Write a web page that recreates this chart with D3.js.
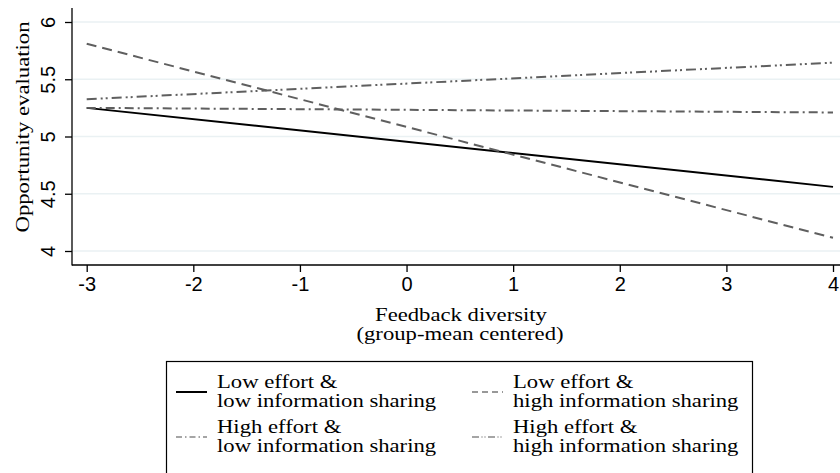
<!DOCTYPE html>
<html><head><meta charset="utf-8">
<script src="https://cdn.jsdelivr.net/npm/d3@7"></script>
<style>body{margin:0;background:#fff}svg{display:block}</style>
</head><body><svg id="c" width="840" height="473"></svg>
<script>
const xEnds = [-3, 4];
const xTicks = [-3, -2, -1, 0, 1, 2, 3, 4];
const yTicks = [4, 4.5, 5, 5.5, 6];
const yTickLabels = ["4", "4.5", "5", "5.5", "6"];
const seriesNames = ["Low effort & low information sharing", "Low effort & high information sharing", "High effort & low information sharing", "High effort & high information sharing"];
const lowLow = [5.25, 4.56];
const lowHigh = [5.81, 4.115];
const highLow = [5.25, 5.21];
const highHigh = [5.325, 5.645];
const legendLines = [["Low effort &", "low information sharing"], ["Low effort &", "high information sharing"], ["High effort &", "low information sharing"], ["High effort &", "high information sharing"]];

const SERIF = "Liberation Serif, Times New Roman, serif";
const FS = 18;
const SX = 1.26; // horizontal stretch of the serif face
const svg = d3.select("#c");
const x = d3.scaleLinear().domain([-3, 4]).range([86.7, 833]);
const y = d3.scaleLinear().domain([4, 6]).range([251, 22]);

const styles = [
  {color: "#000", dash: null},
  {color: "#5f5f5f", dash: "10,6"},
  {color: "#5f5f5f", dash: "9,4,2,4"},
  {color: "#5f5f5f", dash: "10,4,2,3,2,4"}
];
const series = [lowLow, lowHigh, highLow, highHigh];

// gridlines
svg.append("g").selectAll("line").data(yTicks).join("line")
  .attr("x1", 73).attr("x2", 840).attr("y1", d => y(d)).attr("y2", d => y(d))
  .attr("stroke", "#eaf1f3").attr("stroke-width", 1.5);

// y axis
const yAxis = svg.append("g").attr("transform", "translate(72,0)")
  .call(d3.axisLeft(y).tickValues(yTicks).tickSize(7).tickFormat((d, i) => yTickLabels[i]));
yAxis.select(".domain").remove();
yAxis.append("line").attr("x1", 0).attr("x2", 0).attr("y1", 8).attr("y2", 265.5).attr("stroke", "#000").attr("stroke-width", 1.3);
yAxis.selectAll(".tick line").attr("stroke", "#000").attr("stroke-width", 1.3);
yAxis.selectAll(".tick text")
  .attr("x", null).attr("dy", null)
  .attr("transform", "translate(-24,0) rotate(-90)")
  .attr("text-anchor", "middle").attr("dominant-baseline", "central")
  .attr("font-family", "Liberation Sans, Arial, sans-serif").attr("font-size", 20).attr("fill", "#000");

// x axis
const xAxis = svg.append("g").attr("transform", "translate(0,265)")
  .call(d3.axisBottom(x).tickValues(xTicks).tickSize(7).tickFormat(d3.format("d")));
xAxis.select(".domain").remove();
xAxis.append("line").attr("x1", 72).attr("x2", 840).attr("y1", 0).attr("y2", 0).attr("stroke", "#000").attr("stroke-width", 1.3);
xAxis.selectAll(".tick line").attr("stroke", "#000").attr("stroke-width", 1.3);
xAxis.selectAll(".tick text").attr("y", 12).attr("dy", "0.71em")
  .attr("font-family", "Liberation Sans, Arial, sans-serif").attr("font-size", 20).attr("fill", "#000")
  .text(d => d3.format("d")(d).replace("\u2212", "-"));

// axis titles
svg.append("text").attr("transform", `translate(461,321) scale(${SX},1)`).attr("text-anchor", "middle")
  .attr("font-family", SERIF).attr("font-size", FS).text("Feedback diversity");
svg.append("text").attr("transform", `translate(460,340) scale(${SX},1)`).attr("text-anchor", "middle")
  .attr("font-family", SERIF).attr("font-size", FS).text("(group-mean centered)");
svg.append("text").attr("transform", `translate(29,127) rotate(-90) scale(${SX},1)`).attr("text-anchor", "middle")
  .attr("font-family", SERIF).attr("font-size", FS).text("Opportunity evaluation");

// lines
const line = d3.line().x((d, i) => x(xEnds[i])).y(d => y(d));
svg.append("g").selectAll("path").data(series).join("path")
  .attr("d", d => line(d)).attr("fill", "none")
  .attr("stroke", (d, i) => styles[i].color)
  .attr("stroke-dasharray", (d, i) => styles[i].dash)
  .attr("stroke-width", 2);

// legend
svg.append("rect").attr("x", 166.5).attr("y", 361.5).attr("width", 586).attr("height", 130)
  .attr("fill", "#fff").attr("stroke", "#000").attr("stroke-width", 1.2);
const legPos = [[176, 388], [472, 388], [176, 433], [472, 433]];
const legStyles = [
  {color: "#000", dash: null, w: 2},
  {color: "#777", dash: "6,4", w: 1.5},
  {color: "#888", dash: "6,3,1.5,3", w: 1.5},
  {color: "#888", dash: "7,2.5,1,2,1,2.5", w: 1.5}
];
const lg = svg.append("g").selectAll("g").data(legendLines).join("g")
  .attr("transform", (d, i) => `translate(${legPos[i][0]},${legPos[i][1]})`);
lg.append("line").attr("x1", 0).attr("x2", 31).attr("y1", 4).attr("y2", 4)
  .attr("stroke", (d, i) => legStyles[i].color).attr("stroke-width", (d, i) => legStyles[i].w)
  .attr("stroke-dasharray", (d, i) => legStyles[i].dash);
lg.selectAll("text").data(d => d).join("text")
  .attr("transform", (d, j) => `translate(41,${j * 19}) scale(${SX},1)`)
  .attr("font-family", SERIF).attr("font-size", FS).text(d => d);
</script></body></html>
